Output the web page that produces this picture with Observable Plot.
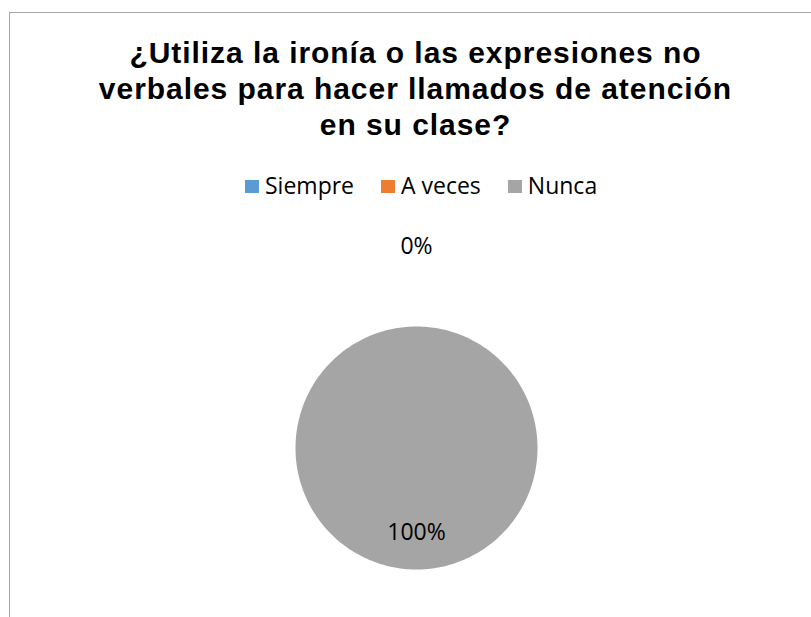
<!DOCTYPE html>
<html>
<head>
<meta charset="utf-8">
<script src="https://cdn.jsdelivr.net/npm/d3@7"></script>
<script src="https://cdn.jsdelivr.net/npm/@observablehq/plot@0.6"></script>
<style>
  html, body { margin: 0; padding: 0; background: #fff; width: 811px; height: 617px; overflow: hidden; }
  #frame { position: absolute; left: 9px; top: 12px; width: 900px; height: 700px;
           border-top: 1px solid #a6a6a6; border-left: 1px solid #a6a6a6; }
  #plot { position: absolute; left: 0; top: 0; }
  #title { position: absolute; left: 0; width: 831px; top: 34.5px; text-align: center;
           font-family: "Liberation Sans", Arial, sans-serif; font-weight: bold; font-size: 30px;
           letter-spacing: 0.95px; line-height: 36px; color: #000; white-space: nowrap; }
  #legend { position: absolute; left: 245px; top: 172px; display: flex; align-items: center;
            font-family: "Open Sans", sans-serif; font-size: 23px; line-height: 26px; color: #000; }
  .item { display: flex; align-items: center; margin-right: 27px; }
  .sw { width: 14px; height: 13px; margin-right: 6px; margin-top: 2px; }
</style>
</head>
<body>
<div id="frame"></div>
<div id="plot"></div>
<div id="title"></div>
<div id="legend"></div>
<script>
const titleLines = ["¿Utiliza la ironía o las expresiones no", "verbales para hacer llamados de atención", "en su clase?"];
const categories = ["Siempre", "A veces", "Nunca"];
const values = [0, 0, 100];
const colors = ["#5B9BD5", "#ED7D31", "#A5A5A5"];

document.getElementById("title").innerHTML = titleLines.join("<br>");
const legend = document.getElementById("legend");
categories.forEach((c, i) => {
  const it = document.createElement("div");
  it.className = "item";
  const sw = document.createElement("div");
  sw.className = "sw";
  sw.style.background = colors[i];
  const t = document.createElement("span");
  t.textContent = c;
  it.appendChild(sw); it.appendChild(t);
  legend.appendChild(it);
});

const total = d3.sum(values);
const arcs = d3.pie().sort(null).value(d => d)(values);
const slicePts = [];
const labels = [];
arcs.forEach((a, i) => {
  const span = a.endAngle - a.startAngle;
  if (span > 0) {
    const n = Math.max(2, Math.ceil(span / (Math.PI / 180)));
    if (span < 2 * Math.PI - 1e-9) slicePts.push({key: categories[i], x: 0, y: 0});
    for (let k = 0; k <= n; k++) {
      const ang = a.startAngle + span * k / n;
      slicePts.push({key: categories[i], x: Math.sin(ang), y: Math.cos(ang)});
    }
  }
  const mid = (a.startAngle + a.endAngle) / 2;
  const pct = Math.round(values[i] / total * 100);
  const r = pct >= 10 ? 0.7 : 1.66;
  labels.push({label: pct + "%", x: r * Math.sin(mid), y: r * Math.cos(mid)});
});
const seen = new Set();
const uniqLabels = labels.filter(d => {
  const k = d.label + "|" + d.x.toFixed(3) + "|" + d.y.toFixed(3);
  if (seen.has(k)) return false;
  seen.add(k); return true;
});

const chart = Plot.plot({
  width: 811,
  height: 617,
  marginLeft: 295,
  marginRight: 274,
  marginTop: 326,
  marginBottom: 48,
  style: {background: "transparent", overflow: "visible"},
  x: {domain: [-1, 1], axis: null},
  y: {domain: [-1, 1], axis: null},
  color: {domain: categories, range: colors},
  marks: [
    Plot.line(slicePts, {x: "x", y: "y", z: "key", fill: "key", stroke: "none"}),
    Plot.text(uniqLabels, {x: "x", y: "y", text: "label", fontSize: 23,
      fontFamily: "Open Sans", fill: "#000", dy: 0})
  ]
});
document.getElementById("plot").appendChild(chart);
</script>
</body>
</html>
